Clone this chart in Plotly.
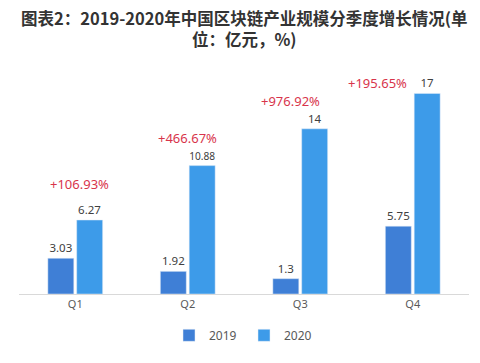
import plotly.graph_objects as go

categories = ["Q1", "Q2", "Q3", "Q4"]
values_2019 = [3.03, 1.92, 1.3, 5.75]
values_2020 = [6.27, 10.88, 14, 17]
growth_labels = ["+106.93%", "+466.67%", "+976.92%", "+195.65%"]
title_lines = ["图表2：2019-2020年中国区块链产业规模分季度增长情况(单", "位：亿元，%)"]

c2019 = "#3F7FD6"
c2020 = "#3D9BE9"

fig = go.Figure()
fig.add_trace(go.Bar(
    name="2019", x=categories, y=values_2019, marker_color=c2019,
    text=[f"{v:g}" for v in values_2019], textposition="outside",
    textfont=dict(size=11.5, color="#404040", family="Noto Sans, sans-serif"),
    cliponaxis=False,
))
fig.add_trace(go.Bar(
    name="2020", x=categories, y=values_2020, marker_color=c2020,
    text=[f"{v:g}" for v in values_2020], textposition="outside",
    textfont=dict(size=11.5, color="#404040", family="Noto Sans, sans-serif"),
    cliponaxis=False,
))

# growth annotations
shifts = [(4, 25), (0, 17), (-10, 17), (-35, -1)]
for i, (cat, v, lab) in enumerate(zip(categories, values_2020, growth_labels)):
    dx, dy = shifts[i]
    fig.add_annotation(
        x=cat, y=v, text=lab, showarrow=False, xshift=dx, yshift=dy,
        yanchor="bottom",
        font=dict(size=13, color="#D8344B", family="Noto Sans, sans-serif"),
    )

# title: two centred lines in one text block
fig.add_annotation(
    x=0.5, xref="paper", y=1.127, yref="paper",
    text="<b>" + "<br>".join(title_lines) + "</b>",
    showarrow=False, xanchor="center", yanchor="middle", align="center",
    font=dict(size=16.5, color="#333333", family="Noto Sans CJK SC, sans-serif"),
)

fig.update_layout(
    width=480, height=363,
    margin=dict(l=19, r=11, t=58, b=69, autoexpand=False),
    paper_bgcolor="white", plot_bgcolor="white",
    barmode="group", bargap=0.487, bargroupgap=0.1,
    xaxis=dict(
        showline=True, linecolor="#D9D9D9", linewidth=1, automargin=False,
        ticks="", tickfont=dict(size=11, color="#595959", family="Noto Sans, sans-serif"),
        showgrid=False,
    ),
    yaxis=dict(range=[0, 20], visible=False, showgrid=False, automargin=False),
    legend=dict(
        orientation="h", x=0.5, xanchor="center", y=-0.175, yanchor="middle",
        font=dict(size=12, color="#595959", family="Noto Sans, sans-serif"),
        entrywidth=30, entrywidthmode="pixels", traceorder="normal",
    ),
    showlegend=True,
)

fig.write_html("out.html", post_script="document.body.style.margin='0';",
               config={"displayModeBar": False})
